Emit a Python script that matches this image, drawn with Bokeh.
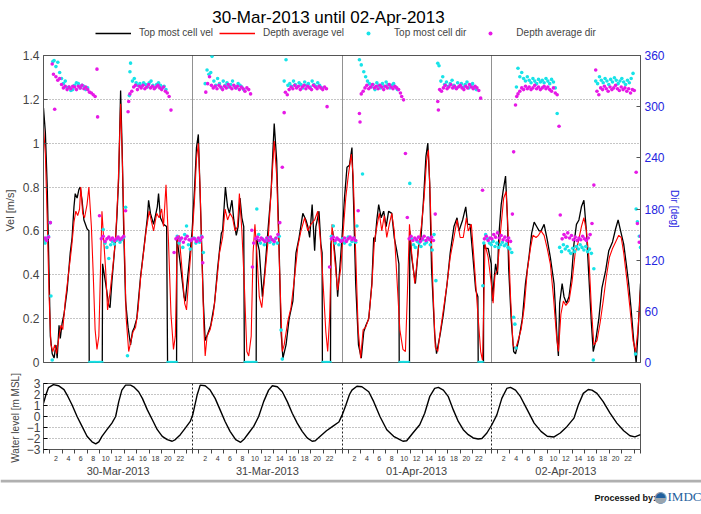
import numpy as np
from bokeh.plotting import figure
from bokeh.models import (Range1d, LinearAxis, FixedTicker, Legend, LegendItem, Label,
                          CustomJSTickFormatter)
from bokeh.layouts import column
from bokeh.embed import file_html
from bokeh.resources import INLINE
from bokeh.core.properties import value

# ---------------- data (hours since 30-Mar-2013 00:00) ----------------
title_text = "30-Mar-2013 until 02-Apr-2013"
legend_labels = ["Top most cell vel", "Depth average vel", "Top most cell dir", "Depth average dir"]
date_ticks = [12, 36, 60, 84]
date_labels = ["30-Mar-2013", "31-Mar-2013", "01-Apr-2013", "02-Apr-2013"]
vel_ticks = [0, 0.2, 0.4, 0.6, 0.8, 1, 1.2, 1.4]
dir_ticks = [0, 60, 120, 180, 240, 300, 360]
wl_ticks = [-3, -2, -1, 0, 1, 2, 3]
day_bounds = [24, 48, 72]
hour_ticks = [h for h in range(2, 96, 2) if h % 24 != 0]
hour_minor = [h for h in range(0, 97) if h % 2 == 1 or h % 24 == 0]

# Top most cell velocity [m/s]
t_vel_top = [0.0, 0.3, 0.6, 0.9, 1.1, 1.4, 1.7, 2.0, 2.2, 2.5, 2.7, 3.0, 3.3, 3.8, 4.3, 4.6, 4.9, 5.1, 5.4, 5.7, 5.9, 6.2, 6.5, 7.0, 7.3, 7.35, 9.45, 9.5, 10.0, 10.5, 10.7, 11.0, 11.6, 11.8, 12.1, 12.4, 12.65, 12.9, 13.2, 13.6, 14.0, 14.3, 14.6, 15.0, 15.6, 16.1, 16.7, 16.9, 17.2, 17.7, 18.3, 18.5, 18.8, 19.3, 19.8, 19.95, 21.4, 21.45, 22.0, 22.6, 22.8, 23.4, 23.9,
             24.3, 24.6, 24.9, 25.3, 25.7, 26.0, 26.4, 26.9, 27.5, 28.0, 28.6, 28.8, 29.25, 29.6, 29.9, 30.3, 30.6, 31.0, 31.3, 31.6, 31.9, 32.2, 32.3, 34.2, 34.25, 34.7, 35.2, 35.6, 36.0, 36.6, 36.9, 37.1, 37.5, 37.9, 38.2, 38.5, 39.0, 39.5, 40.1, 40.6, 41.1, 41.7, 42.2, 42.5, 42.8, 43.2, 43.6, 43.8, 44.3, 44.6, 44.8, 44.85, 46.15, 46.2, 46.5, 47.0, 47.3, 47.7,
             48.0, 48.4, 48.8, 49.2, 49.6, 49.85, 50.2, 50.65, 51.1, 51.5, 51.85, 52.3, 52.8, 53.1, 53.3, 53.6, 53.9, 54.3, 54.7, 55.1, 55.5, 56.0, 56.4, 56.8, 57.15, 57.2, 58.85, 58.9, 59.2, 59.8, 60.3, 60.7, 61.1, 61.5, 61.8, 62.1, 62.4, 62.9, 63.2, 63.8, 64.3, 64.9, 65.4, 66.0, 66.5, 66.8, 67.4, 67.9, 68.2, 68.6, 69.0, 69.5, 69.85, 69.9, 70.75, 70.8, 71.0, 71.5,
             72.0, 72.2, 72.4, 72.7, 73.0, 73.2, 73.6, 73.9, 74.3, 74.6, 74.8, 75.2, 75.6, 75.9, 76.4, 77.0, 77.5, 78.1, 78.5, 78.9, 79.3, 79.7, 80.0, 80.5, 81.0, 81.5, 82.1, 82.6, 82.8, 83.0, 83.4, 83.7, 84.1, 84.5, 84.9, 85.3, 85.7, 86.1, 86.5, 86.9, 87.3, 87.7, 88.1, 88.4, 88.8, 89.3, 89.8, 90.4, 90.9, 91.5, 92.0, 92.4, 92.8, 93.3, 93.8, 94.1, 94.5, 94.9, 95.3, 95.6, 96.0]
vel_top = [1.16, 1.05, 0.80, 0.40, 0.12, 0.04, 0.02, 0.08, 0.02, 0.17, 0.11, 0.18, 0.22, 0.33, 0.50, 0.57, 0.71, 0.77, 0.75, 0.79, 0.80, 0.74, 0.65, 0.61, 0.60, 0.0, 0.0, 0.45, 0.36, 0.26, 0.25, 0.37, 0.57, 0.66, 0.85, 1.24, 0.97, 0.60, 0.28, 0.16, 0.08, 0.14, 0.16, 0.20, 0.39, 0.51, 0.66, 0.74, 0.68, 0.63, 0.71, 0.77, 0.66, 0.63, 0.62, 0.0, 0.0, 0.57, 0.45, 0.30, 0.28, 0.45, 0.60,
           0.80, 0.98, 1.04, 0.66, 0.28, 0.10, 0.13, 0.17, 0.27, 0.43, 0.59, 0.60, 0.80, 0.71, 0.68, 0.74, 0.65, 0.58, 0.62, 0.75, 0.66, 0.62, 0.0, 0.0, 0.57, 0.51, 0.30, 0.42, 0.57, 0.78, 0.97, 1.09, 0.92, 0.51, 0.14, 0.02, 0.08, 0.20, 0.28, 0.50, 0.57, 0.68, 0.65, 0.62, 0.57, 0.72, 0.51, 0.62, 0.69, 0.54, 0.50, 0.0, 0.0, 0.54, 0.60, 0.45, 0.30, 0.45,
           0.57, 0.75, 0.89, 0.90, 0.98, 0.74, 0.36, 0.08, 0.02, 0.14, 0.17, 0.20, 0.36, 0.57, 0.55, 0.65, 0.72, 0.66, 0.69, 0.62, 0.69, 0.68, 0.57, 0.51, 0.45, 0.0, 0.0, 0.60, 0.48, 0.36, 0.53, 0.57, 0.74, 0.94, 1.00, 0.82, 0.43, 0.13, 0.04, 0.13, 0.22, 0.36, 0.50, 0.62, 0.66, 0.60, 0.65, 0.71, 0.63, 0.63, 0.50, 0.33, 0.30, 0.0, 0.0, 0.55, 0.52, 0.52,
           0.45, 0.28, 0.36, 0.45, 0.40, 0.57, 0.72, 0.78, 0.85, 0.66, 0.43, 0.20, 0.05, 0.04, 0.10, 0.20, 0.36, 0.49, 0.59, 0.64, 0.62, 0.60, 0.60, 0.63, 0.56, 0.48, 0.36, 0.10, 0.03, 0.27, 0.36, 0.30, 0.27, 0.30, 0.39, 0.54, 0.63, 0.65, 0.71, 0.74, 0.60, 0.39, 0.18, 0.05, 0.10, 0.20, 0.34, 0.42, 0.51, 0.55, 0.61, 0.65, 0.60, 0.54, 0.43, 0.36, 0.24, 0.10, 0.00, 0.13, 0.36]

# Depth average velocity [m/s]
t_vel_avg = [0.0, 0.3, 0.6, 0.9, 1.2, 1.5, 1.8, 2.1, 2.4, 2.8, 3.1, 3.5, 4.0, 4.5, 4.9, 5.2, 5.5, 5.8, 6.0, 6.3, 6.6, 7.0, 7.3, 7.7, 8.0, 8.3, 8.6, 8.9, 9.1, 9.4, 9.7, 10.0, 10.3, 10.7, 11.2, 11.6, 12.0, 12.4, 12.7, 13.0, 13.3, 13.7, 14.0, 14.4, 14.8, 15.2, 15.6, 16.0, 16.5, 17.0, 17.3, 17.7, 18.2, 18.6, 19.0, 19.3, 19.7, 20.1, 20.5, 20.9, 21.2, 21.5, 21.8, 22.2, 22.7, 23.0, 23.4, 23.9,
             24.3, 24.6, 24.9, 25.2, 25.5, 25.8, 26.0, 26.3, 26.8, 27.3, 27.8, 28.3, 28.8, 29.2, 29.6, 30.0, 30.4, 30.8, 31.2, 31.5, 31.9, 32.3, 32.7, 33.0, 33.4, 33.7, 34.0, 34.3, 34.7, 35.1, 35.6, 36.1, 36.6, 37.1, 37.5, 37.9, 38.4, 38.7, 39.3, 39.8, 40.3, 40.9, 41.4, 42.0, 42.5, 43.0, 43.6, 44.1, 44.5, 44.9, 45.4, 45.7, 46.0, 46.4, 46.8, 47.3, 47.8,
             48.2, 48.6, 49.0, 49.5, 49.8, 50.2, 50.6, 51.0, 51.4, 51.8, 52.3, 52.8, 53.2, 53.6, 54.0, 54.4, 54.8, 55.2, 55.6, 56.0, 56.4, 56.8, 57.3, 57.8, 58.2, 58.5, 58.85, 59.2, 59.7, 60.3, 60.8, 61.2, 61.6, 61.9, 62.2, 62.6, 63.0, 63.4, 63.8, 64.3, 64.9, 65.4, 66.0, 66.5, 67.0, 67.5, 68.0, 68.3, 68.8, 69.2, 69.8, 70.3, 70.6, 71.0, 71.5,
             72.0, 72.3, 72.6, 73.0, 73.5, 74.0, 74.4, 74.7, 75.1, 75.5, 75.9, 76.3, 76.8, 77.3, 77.8, 78.3, 78.7, 79.2, 79.6, 80.0, 80.5, 81.0, 81.5, 82.0, 82.5, 82.8, 83.2, 83.6, 84.0, 84.5, 85.0, 85.5, 86.0, 86.5, 86.9, 87.3, 87.7, 88.1, 88.5, 89.0, 89.5, 90.0, 90.5, 91.0, 91.5, 92.0, 92.5, 92.9, 93.3, 93.8, 94.3, 94.8, 95.2, 95.6, 96.0]
vel_avg = [1.07, 0.95, 0.65, 0.30, 0.08, 0.05, 0.08, 0.04, 0.10, 0.17, 0.15, 0.28, 0.40, 0.52, 0.64, 0.69, 0.67, 0.70, 0.80, 0.68, 0.66, 0.72, 0.80, 0.62, 0.40, 0.15, 0.06, 0.12, 0.35, 0.69, 0.55, 0.42, 0.24, 0.32, 0.45, 0.57, 0.80, 1.18, 0.90, 0.55, 0.20, 0.05, 0.09, 0.14, 0.16, 0.24, 0.38, 0.48, 0.60, 0.69, 0.65, 0.60, 0.68, 0.66, 0.70, 0.62, 0.81, 0.55, 0.22, 0.06, 0.12, 0.55, 0.58, 0.45, 0.27, 0.24, 0.40, 0.57,
           0.75, 0.93, 1.00, 0.78, 0.45, 0.15, 0.03, 0.12, 0.15, 0.22, 0.35, 0.50, 0.57, 0.70, 0.65, 0.68, 0.66, 0.60, 0.62, 0.77, 0.60, 0.35, 0.05, 0.03, 0.12, 0.50, 0.63, 0.50, 0.30, 0.25, 0.40, 0.55, 0.78, 1.01, 0.85, 0.48, 0.05, 0.08, 0.19, 0.25, 0.37, 0.53, 0.60, 0.66, 0.60, 0.63, 0.65, 0.69, 0.57, 0.39, 0.14, 0.05, 0.20, 0.63, 0.48, 0.33, 0.43,
           0.60, 0.75, 0.85, 0.95, 0.85, 0.50, 0.15, 0.02, 0.15, 0.16, 0.20, 0.35, 0.55, 0.62, 0.68, 0.60, 0.67, 0.57, 0.63, 0.68, 0.60, 0.40, 0.15, 0.06, 0.05, 0.30, 0.63, 0.50, 0.36, 0.52, 0.63, 0.75, 0.92, 0.97, 0.74, 0.36, 0.07, 0.05, 0.14, 0.24, 0.36, 0.48, 0.57, 0.65, 0.57, 0.57, 0.66, 0.60, 0.63, 0.48, 0.24, 0.05, 0.01, 0.54, 0.48,
           0.36, 0.27, 0.40, 0.42, 0.60, 0.75, 0.78, 0.60, 0.30, 0.08, 0.06, 0.10, 0.15, 0.25, 0.42, 0.52, 0.58, 0.57, 0.58, 0.60, 0.58, 0.52, 0.45, 0.30, 0.12, 0.05, 0.22, 0.28, 0.26, 0.28, 0.37, 0.50, 0.55, 0.62, 0.66, 0.60, 0.48, 0.25, 0.08, 0.10, 0.18, 0.28, 0.39, 0.48, 0.52, 0.55, 0.58, 0.57, 0.50, 0.38, 0.25, 0.10, 0.05, 0.15, 0.33]

# Top most cell direction [deg]
t_dir_top = [0.0, 0.25, 0.5, 0.8, 1.1, 1.2, 1.4, 1.5, 1.7, 2.0, 2.3, 2.6, 2.9, 3.2, 3.5, 3.8, 4.1, 4.4, 4.7, 5.0, 5.3, 5.6, 5.9, 6.2, 6.5, 6.8, 7.1,
             7.4, 7.6, 7.8, 8.0, 8.2, 8.4, 8.6, 8.8, 9.0, 9.2, 9.4,
             9.6, 9.9, 10.2, 10.5, 10.8, 11.1, 11.4, 11.7, 12.0, 12.3, 12.6, 12.9, 13.2, 13.5, 13.8, 13.9, 14.0, 14.3, 14.6, 14.9, 15.2, 15.5, 15.8, 16.1, 16.4, 16.7, 17.0, 17.3, 17.6, 17.9, 18.2, 18.5, 18.8, 19.1, 19.4, 19.7,
             20.0, 20.2, 20.4, 20.6, 20.8, 21.0, 21.2, 21.4,
             21.5, 21.8, 22.1, 22.4, 22.7, 23.0, 23.3, 23.6, 23.9,
             24.2, 24.5, 24.8, 25.1, 25.4, 25.7, 26.0, 26.3, 26.6, 26.9, 27.1, 27.4, 27.7, 28.0, 28.3, 28.6, 28.9, 29.2, 29.5, 29.8, 30.1, 30.4, 30.7, 31.0, 31.3, 31.6, 31.9, 32.2,
             32.4, 32.6, 32.8, 33.0, 33.2, 33.4, 33.6, 33.8, 34.0, 34.2,
             34.3, 34.6, 34.9, 35.2, 35.5, 35.8, 36.1, 36.4, 36.7, 37.0, 37.3, 37.6, 37.9, 38.2, 38.4, 38.7, 39.0, 39.3, 39.6, 39.9, 40.2, 40.5, 40.8, 41.1, 41.4, 41.7, 42.0, 42.3, 42.6, 42.9, 43.2, 43.5, 43.8, 44.1, 44.4, 44.7,
             44.9, 45.1, 45.3, 45.5, 45.7, 45.9, 46.1,
             46.3, 46.6, 46.9, 47.2, 47.5, 47.8,
             48.1, 48.4, 48.7, 49.0, 49.3, 49.6, 49.9, 50.2, 50.4, 50.8, 51.1, 51.3, 51.5, 51.8, 52.1, 52.4, 52.7, 53.0, 53.3, 53.6, 53.9, 54.2, 54.5, 54.8, 55.1, 55.4, 55.7, 56.0, 56.3, 56.6, 56.9,
             57.3, 57.5, 57.7, 57.9, 58.1, 58.3, 58.5, 58.7,
             58.9, 59.2, 59.5, 59.8, 60.1, 60.4, 60.7, 61.0, 61.3, 61.6, 61.9, 62.2, 62.5, 62.8, 63.1, 63.4, 63.6, 63.9, 64.2, 64.5, 64.8, 65.1, 65.4, 65.7, 66.0, 66.3, 66.6, 66.9, 67.2, 67.5, 67.8, 68.1, 68.4, 68.7, 69.0, 69.3, 69.6,
             70.0, 70.2, 70.4, 70.6, 70.65,
             70.8, 71.1, 71.4, 71.7,
             72.0, 72.3, 72.6, 72.9, 73.2, 73.5, 73.8, 74.1, 74.4, 74.7, 75.0, 75.3, 75.6, 75.8, 76.0, 76.05, 76.3, 76.6, 76.9, 77.2, 77.5, 77.8, 78.1, 78.4, 78.7, 79.0, 79.3, 79.6, 79.9, 80.2, 80.5, 80.8, 81.1, 81.4, 81.7, 82.0, 82.3, 82.6,
             83.0, 83.3, 83.6, 83.9, 84.2, 84.5, 84.8, 85.1, 85.4, 85.7, 86.0, 86.3, 86.6, 86.9, 87.2, 87.5, 87.8, 88.1, 88.4, 88.5,
             88.8, 89.1, 89.4, 89.7, 90.0, 90.3, 90.6, 90.9, 91.2, 91.5, 91.8, 92.1, 92.4, 92.7, 93.0, 93.3, 93.6, 93.9, 94.2, 94.5, 94.8,
             95.2, 95.3, 95.5, 95.8, 96.0]
dir_top = [143, 140, 145, 148, 164, 78, 3, 353, 354, 347, 352, 340, 333, 327, 330, 322, 323, 319, 320, 325, 328, 327, 322, 325, 324, 320, 322,
           0, 0, 0, 0, 0, 0, 0, 0, 0, 0, 0,
           156, 140, 135, 122, 138, 142, 139, 143, 145, 141, 144, 147, 182, 8, 313, 341, 351, 330, 333, 328, 325, 327, 324, 328, 326, 323, 328, 330, 325, 322, 326, 328, 325, 322, 324, 320,
           0, 0, 0, 0, 0, 0, 0, 0,
           148, 140, 145, 135, 150, 160, 138, 133, 145,
           146, 140, 144, 141, 148, 129, 327, 343, 338, 340, 359, 330, 325, 333, 327, 322, 330, 325, 328, 323, 326, 330, 324, 322, 327, 325, 323, 320,
           0, 0, 0, 0, 0, 0, 0, 0, 0, 0,
           180, 150, 140, 145, 138, 143, 146, 141, 144, 139, 145, 140, 148, 38, 4, 330, 355, 325, 327, 324, 330, 326, 323, 328, 326, 322, 329, 325, 327, 323, 330, 326, 324, 328, 325, 322,
           0, 0, 0, 0, 0, 0, 0,
           148, 160, 140, 145, 138, 143,
           145, 140, 143, 147, 138, 142, 146, 141, 160, 355, 349, 221, 341, 335, 330, 327, 323, 326, 320, 328, 325, 322, 327, 324, 329, 326, 322, 325, 327, 323, 320,
           0, 0, 0, 0, 0, 0, 0, 0,
           210, 145, 138, 135, 142, 140, 136, 144, 139, 141, 146, 138, 132, 150, 96, 351, 348, 330, 335, 326, 329, 324, 327, 331, 325, 322, 328, 324, 327, 323, 326, 329, 322, 325, 327, 323, 320,
           0, 0, 0, 0, 90,
           140, 150, 145, 140,
           138, 142, 136, 140, 135, 138, 141, 137, 139, 135, 133, 129, 53, 45, 17, 323, 345, 335, 340, 333, 330, 335, 331, 328, 333, 330, 327, 332, 329, 331, 328, 333, 330, 327, 332, 329, 322, 292,
           135, 130, 138, 133, 136, 131, 128, 134, 130, 136, 133, 138, 135, 132, 136, 130, 133, 128, 3, 110,
           330, 327, 335, 331, 328, 333, 330, 326, 332, 329, 334, 331, 327, 330, 333, 329, 326, 331, 328, 333, 339,
           10, 180, 165, 148, 135]

# Depth average direction [deg]
t_dir_avg = [0.0, 0.25, 0.5, 0.8, 1.1, 1.4, 1.6, 1.8, 2.0, 2.3, 2.6, 2.9, 3.2, 3.5, 3.8, 4.1, 4.4, 4.7, 5.0, 5.3, 5.6, 5.9, 6.2, 6.5, 6.8, 7.1, 7.4, 7.7, 8.0, 8.3, 8.6, 8.7, 9.0, 9.3, 9.6, 9.9, 10.2, 10.5, 10.8, 11.1, 11.4, 11.7, 12.0, 12.3, 12.6, 12.9, 13.2, 13.6, 13.7, 13.9, 14.2, 14.5, 14.8, 15.1, 15.4, 15.7, 16.0, 16.3, 16.6, 16.9, 17.2, 17.5, 17.8, 18.1, 18.4, 18.7, 19.0, 19.3, 19.6, 19.9, 20.2, 20.5, 21.0, 21.3, 21.6, 21.9, 22.2, 22.5, 22.8, 23.1, 23.4, 23.7,
             24.0, 24.3, 24.6, 24.9, 25.2, 25.5, 25.6, 26.1, 26.4, 26.7, 27.0, 27.3, 27.6, 27.9, 28.2, 28.5, 28.8, 29.1, 29.4, 29.7, 30.0, 30.3, 30.6, 30.9, 31.2, 31.5, 31.8, 32.1, 32.4, 32.7, 33.0, 33.3, 33.5, 33.6, 33.8, 34.1, 34.4, 34.7, 35.0, 35.3, 35.6, 35.9, 36.2, 36.5, 36.8, 37.1, 37.4, 37.7, 38.0, 38.4, 38.7, 38.9, 39.2, 39.5, 39.8, 40.1, 40.4, 40.7, 41.0, 41.3, 41.6, 41.9, 42.2, 42.5, 42.8, 43.1, 43.4, 43.7, 44.0, 44.3, 44.6, 44.9, 45.2, 45.5, 45.6, 46.0, 46.3, 46.6, 46.9, 47.2, 47.5, 47.8,
             48.1, 48.4, 48.7, 49.0, 49.3, 49.6, 49.9, 50.2, 50.6, 50.8, 50.9, 51.1, 51.4, 51.7, 52.0, 52.3, 52.6, 52.9, 53.2, 53.5, 53.8, 54.1, 54.4, 54.7, 55.0, 55.3, 55.6, 55.9, 56.2, 56.5, 56.8, 57.1, 57.4, 57.6, 57.9, 58.2, 58.5, 58.8, 59.1, 59.4, 59.7, 60.0, 60.3, 60.6, 60.9, 61.2, 61.5, 61.8, 62.1, 62.4, 62.7, 63.0, 63.4, 63.5, 63.7, 64.0, 64.3, 64.6, 64.9, 65.2, 65.5, 65.8, 66.1, 66.4, 66.7, 67.0, 67.3, 67.6, 67.9, 68.2, 68.5, 68.8, 69.1, 69.4, 69.7, 70.0, 70.3, 70.6, 70.9, 71.2, 71.5, 71.8,
             72.1, 72.4, 72.7, 73.0, 73.3, 73.6, 73.9, 74.2, 74.5, 74.8, 75.1, 75.4, 75.6, 75.9, 76.1, 76.3, 76.6, 76.9, 77.2, 77.5, 77.8, 78.1, 78.4, 78.7, 79.0, 79.3, 79.6, 79.9, 80.2, 80.5, 80.8, 81.1, 81.4, 81.7, 82.0, 82.3, 82.6, 82.9, 83.1, 83.4, 83.7, 84.0, 84.3, 84.6, 84.9, 85.2, 85.5, 85.8, 86.1, 86.4, 86.7, 87.0, 87.3, 87.6, 87.9, 88.2, 88.5, 88.8, 89.0, 89.3, 89.6, 89.9, 90.2, 90.5, 90.8, 91.1, 91.4, 91.7, 92.0, 92.3, 92.6, 92.9, 93.2, 93.5, 93.8, 94.1, 94.4, 94.7, 95.0, 95.3, 95.5, 95.8, 96.0]
dir_avg = [145, 146, 143, 147, 164, 350, 338, 297, 335, 331, 333, 326, 322, 324, 320, 323, 321, 324, 323, 320, 324, 322, 325, 321, 323, 320, 317, 316, 314, 312, 344, 288, 172, 145, 148, 142, 145, 147, 144, 146, 143, 145, 147, 144, 146, 148, 178, 294, 306, 315, 318, 323, 325, 320, 324, 322, 325, 321, 323, 326, 322, 324, 321, 323, 325, 322, 320, 323, 318, 316, 312, 296, 129, 145, 147, 143, 146, 141, 145, 148, 144, 143,
           145, 145, 142, 146, 143, 147, 117, 317, 327, 335, 325, 322, 324, 321, 325, 323, 320, 324, 322, 326, 323, 321, 325, 322, 324, 320, 323, 321, 318, 322, 320, 315, 155, 112, 140, 145, 147, 143, 146, 144, 142, 146, 143, 147, 144, 142, 146, 150, 164, 229, 293, 317, 314, 320, 323, 321, 325, 322, 324, 320, 323, 325, 321, 324, 322, 320, 325, 323, 321, 324, 322, 320, 323, 321, 300, 112, 145, 147, 143, 146, 144, 142,
           143, 146, 142, 145, 147, 144, 146, 143, 178, 292, 282, 315, 318, 322, 325, 321, 323, 326, 322, 324, 321, 325, 323, 320, 324, 322, 326, 323, 321, 324, 322, 320, 316, 312, 308, 245, 170, 145, 148, 143, 146, 144, 147, 142, 145, 148, 143, 146, 144, 147, 143, 174, 306, 296, 320, 318, 322, 325, 321, 323, 326, 322, 324, 321, 323, 325, 322, 320, 324, 322, 326, 323, 321, 324, 322, 319, 310, 202, 145, 148, 143, 146,
           145, 150, 147, 152, 146, 149, 144, 147, 143, 146, 142, 174, 247, 302, 312, 315, 318, 322, 320, 324, 321, 323, 320, 322, 325, 321, 323, 320, 322, 324, 321, 323, 320, 318, 322, 316, 314, 277, 173, 145, 150, 147, 152, 146, 149, 144, 147, 143, 146, 144, 148, 145, 143, 146, 150, 163, 208, 343, 318, 314, 322, 320, 324, 321, 318, 323, 320, 322, 325, 321, 319, 323, 320, 322, 318, 321, 316, 320, 319, 223, 163, 141, 148]

# Water level [m MSL]
t_wl = [0.0, 0.4, 0.8, 1.6, 2.4, 3.3, 3.8, 4.6, 5.4, 6.2, 7.0, 7.8, 8.4, 8.9, 9.4, 10.2, 11.0, 11.6, 12.1, 12.6, 13.2, 14.0, 14.5, 15.3, 15.9, 16.7, 17.5, 18.3, 19.1, 19.9, 20.7, 21.2, 22.0, 22.8, 23.6,
        24.0, 24.7, 25.2, 26.0, 26.8, 27.6, 28.4, 29.2, 30.0, 30.9, 31.7, 32.2, 33.0, 33.8, 34.6, 35.4, 36.2, 36.8, 37.6, 38.4, 39.2, 40.0, 40.8, 41.6, 42.4, 43.2, 43.7, 44.5, 45.5, 46.5, 47.5,
        48.0, 48.6, 49.2, 49.6, 50.4, 51.2, 52.3, 53.1, 54.1, 55.2, 56.3, 57.3, 57.8, 58.4, 59.4, 60.5, 61.3, 62.1, 62.9, 63.5, 64.3, 65.1, 65.9, 66.7, 67.5, 68.3, 69.1, 69.9, 70.5, 71.3,
        72.1, 72.9, 73.7, 74.5, 75.1, 75.9, 76.7, 77.8, 78.9, 80.0, 81.0, 82.1, 83.1, 84.2, 85.3, 86.0, 86.8, 87.6, 88.2, 89.0, 90.0, 91.1, 92.2, 93.3, 94.3, 95.1, 96.0]
wl = [1.2, 2.0, 2.62, 2.9, 2.8, 2.45, 1.95, 1.05, 0.0, -0.9, -1.8, -2.3, -2.49, -2.3, -1.8, -1.2, -0.6, 0.0, 1.35, 2.4, 2.85, 2.85, 2.7, 2.25, 1.65, 0.6, -0.3, -1.2, -1.8, -2.1, -2.25, -2.1, -1.65, -1.05, -0.45,
      0.15, 1.95, 2.85, 2.8, 2.4, 1.65, 0.6, -0.45, -1.35, -2.1, -2.35, -2.1, -1.5, -0.9, 0.0, 1.35, 2.4, 2.8, 2.7, 2.25, 1.35, 0.3, -0.6, -1.35, -1.95, -2.25, -2.2, -1.8, -1.3, -0.9, -0.5,
      0.1, 1.0, 2.0, 2.4, 2.75, 2.7, 2.25, 1.35, 0.0, -1.2, -1.8, -2.1, -2.25, -2.2, -1.5, -0.75, 0.3, 1.8, 2.55, 2.65, 2.4, 1.8, 0.6, -0.45, -1.2, -1.65, -1.95, -2.05, -2.0, -1.5,
      -0.75, 0.15, 1.65, 2.55, 2.65, 2.4, 1.8, 0.6, -0.6, -1.35, -1.8, -1.86, -1.5, -0.9, -0.15, 1.05, 2.1, 2.45, 2.4, 2.1, 1.35, 0.3, -0.6, -1.3, -1.75, -1.85, -1.65]

# ---------------- styling ----------------
FONT = "Liberation Sans"
CYAN = "#17e3e8"
MAGENTA = "#e619e6"
BLUE = "#2424e0"
AXC = "#555555"
W = 701
BL, BR = 43, 61          # left / right borders -> frame spans x 43..640
FW = W - BL - BR
VEL_STYLE = dict(line_color="black", line_width=1.3)
AVG_STYLE = dict(line_color="#ff0000", line_width=1.1)
DTOP_STYLE = dict(marker="circle", size=3.6, fill_color=CYAN, line_color=None)
DAVG_STYLE = dict(marker="circle", size=3.6, fill_color=MAGENTA, line_color=None)


def no_align(f):
    if "frame_align" in f.properties():
        f.frame_align = False
    return f


# ---------------- header: title + legend ----------------
ph = figure(width=W, height=47, x_range=Range1d(BL, BL + FW), y_range=Range1d(0, 47),
            output_backend="svg", toolbar_location=None, title=None,
            x_axis_type=None, y_axis_type=None,
            min_border_left=BL, min_border_right=BR, min_border_top=0, min_border_bottom=0)
ph.outline_line_color = None
ph.grid.visible = False
ph.text(x=[328], y=[30], text=[title_text], text_font=value(FONT), text_font_size="17px",
        text_align="center", text_baseline="middle", text_color="black")
off = [-500, -490]
h1 = ph.line(off, off, line_color="black", line_width=1.3)
h2 = ph.line(off, off, line_color="#ff0000", line_width=1.4)
h3 = ph.scatter(off, off, **DTOP_STYLE)
h4 = ph.scatter(off, off, **DAVG_STYLE)
legend = Legend(items=[LegendItem(label=legend_labels[0], renderers=[h1]),
                       LegendItem(label=legend_labels[1], renderers=[h2]),
                       LegendItem(label=legend_labels[2], renderers=[h3]),
                       LegendItem(label=legend_labels[3], renderers=[h4])],
                orientation="horizontal", location=(52, 9),
                label_text_font=FONT, label_text_font_size="10px",
                glyph_width=36, glyph_height=10, label_height=10, label_standoff=8, spacing=6,
                padding=0, margin=0, border_line_color=None, background_fill_alpha=0)
ph.add_layout(legend, "center")

# ---------------- top panel ----------------
p1 = figure(width=W, height=322, x_range=Range1d(0, 96), y_range=Range1d(0, 1.4),
            output_backend="svg", toolbar_location=None, title=None,
            min_border_left=BL, min_border_right=BR, min_border_top=8, min_border_bottom=7)
p1.extra_y_ranges = {"dir": Range1d(0, 360)}
p1.xaxis.visible = False
p1.outline_line_color = AXC

ya = p1.yaxis[0]
ya.ticker = FixedTicker(ticks=vel_ticks)
ya.major_label_overrides = {0: "0", 1: "1"}
ya.axis_label = "Vel  [m/s]"
ya.axis_label_text_font = FONT
ya.axis_label_text_font_size = "11px"
ya.axis_label_text_font_style = "normal"
ya.axis_label_standoff = 4
ya.major_label_text_font = FONT
ya.major_label_text_font_size = "12px"
ya.major_label_standoff = 4
ya.major_tick_in = 4
ya.major_tick_out = 0
ya.minor_tick_line_color = None
ya.axis_line_color = AXC
ya.major_tick_line_color = AXC

ra = LinearAxis(y_range_name="dir", ticker=FixedTicker(ticks=dir_ticks), axis_label="Dir [deg]")
ra.axis_label_text_font = FONT
ra.axis_label_text_font_size = "10px"
ra.axis_label_text_font_style = "normal"
ra.axis_label_text_color = BLUE
ra.axis_label_standoff = 1
ra.major_label_text_font = FONT
ra.major_label_text_font_size = "12px"
ra.major_label_text_color = BLUE
ra.major_label_standoff = 4
ra.major_tick_in = 4
ra.major_tick_out = 0
ra.minor_tick_line_color = None
ra.axis_line_color = AXC
ra.major_tick_line_color = AXC
p1.add_layout(ra, "right")

p1.ygrid.ticker = FixedTicker(ticks=vel_ticks[1:-1])
p1.ygrid.grid_line_color = "#8a8a8a"
p1.ygrid.grid_line_dash = "1 2"
p1.xgrid.ticker = FixedTicker(ticks=day_bounds)
p1.xgrid.grid_line_color = "#222222"
p1.xgrid.grid_line_dash = "1 1"

p1.line(t_vel_top, vel_top, **VEL_STYLE)
p1.line(t_vel_avg, vel_avg, **AVG_STYLE)
p1.scatter(t_dir_top, dir_top, y_range_name="dir", **DTOP_STYLE)
p1.scatter(t_dir_avg, dir_avg, y_range_name="dir", **DAVG_STYLE)

# ---------------- bottom panel ----------------
p2 = figure(width=W, height=110, x_range=p1.x_range, y_range=Range1d(-3, 3),
            output_backend="svg", toolbar_location=None, title=None,
            min_border_left=BL, min_border_right=BR, min_border_top=14, min_border_bottom=29)
p2.outline_line_color = AXC

xa = p2.xaxis[0]
xa.ticker = FixedTicker(ticks=hour_ticks, minor_ticks=hour_minor)
xa.formatter = CustomJSTickFormatter(code="return String(tick % 24);")
xa.major_label_text_font = FONT
xa.major_label_text_font_size = "7px"
xa.major_label_text_color = "#333333"
xa.major_label_standoff = 2
xa.major_tick_in = 0
xa.major_tick_out = 0
xa.minor_tick_in = 0
xa.minor_tick_out = 4
xa.minor_tick_line_color = "#444444"
xa.axis_line_color = AXC

da = LinearAxis(ticker=FixedTicker(ticks=date_ticks),
                major_label_overrides=dict(zip(date_ticks, date_labels)))
da.major_label_text_font = FONT
da.major_label_text_font_size = "11px"
da.major_label_standoff = 1
da.major_tick_in = 0
da.major_tick_out = 0
da.minor_tick_line_color = None
da.major_tick_line_color = None
da.axis_line_color = None
p2.add_layout(da, "below")

wa = p2.yaxis[0]
wa.ticker = FixedTicker(ticks=wl_ticks)
wa.axis_label = "Water level  [m MSL]"
wa.axis_label_text_font = FONT
wa.axis_label_text_font_size = "10px"
wa.axis_label_text_font_style = "normal"
wa.axis_label_standoff = 3
wa.major_label_text_font = FONT
wa.major_label_text_font_size = "12px"
wa.major_label_standoff = 3
wa.major_tick_in = 4
wa.major_tick_out = 0
wa.minor_tick_line_color = None
wa.axis_line_color = AXC

p2.ygrid.ticker = FixedTicker(ticks=wl_ticks[1:-1])
p2.ygrid.grid_line_color = "#8a8a8a"
p2.ygrid.grid_line_dash = "1 2"
p2.xgrid.ticker = FixedTicker(ticks=day_bounds)
p2.xgrid.grid_line_color = "#222222"
p2.xgrid.grid_line_dash = "2 2"

p2.line(t_wl, wl, line_color="black", line_width=1.4)

# ---------------- footer (separator + credits) ----------------
pf = no_align(figure(width=W, height=35, x_range=Range1d(0, W), y_range=Range1d(0, 35),
                     output_backend="svg", toolbar_location=None, title=None,
                     x_axis_type=None, y_axis_type=None, min_border=0))
pf.outline_line_color = None
pf.grid.visible = False
pf.quad(left=[0], right=[W], bottom=[32], top=[35], fill_color="#b0b0b0", line_color=None)
pf.add_layout(Label(x=594, y=17, text="Processed by:", text_font=FONT, text_font_style="bold",
                    text_font_size="9px", text_baseline="middle", text_color="#111111"))
pf.add_layout(Label(x=660, y=18, text="\u25d3", text_font="DejaVu Sans", text_font_size="15px",
                    text_align="center", text_baseline="middle", text_color="#1f5f9e"))
pf.add_layout(Label(x=660, y=18, text="\u25d2", text_font="DejaVu Sans", text_font_size="15px",
                    text_align="center", text_baseline="middle", text_color="#9aa5ae"))
pf.add_layout(Label(x=667, y=18, text="IMDC", text_font="Liberation Serif", text_font_size="13px",
                    text_baseline="middle", text_color="#1f5f9e"))

layout = column(ph, p1, p2, pf, spacing=0)
open("out.html", "w").write(file_html(layout, INLINE))
